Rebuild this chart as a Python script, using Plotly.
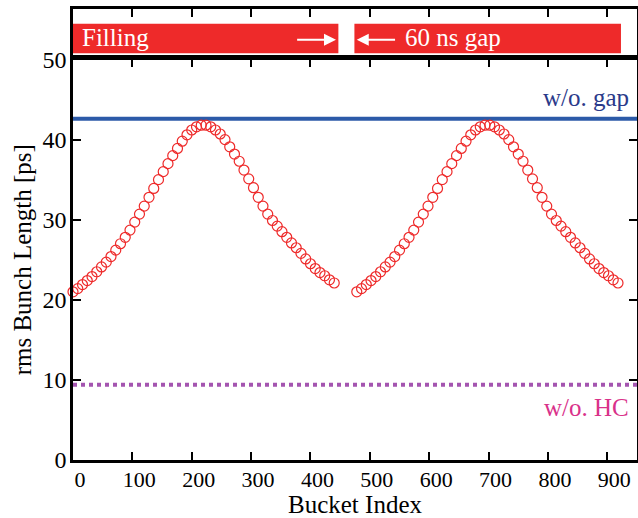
import plotly.graph_objects as go

# ---- data ----
bucket_a = list(range(0, 441, 8))
length_a = [21.0, 21.4, 21.9, 22.4, 22.9, 23.5, 24.1, 24.7, 25.4, 26.2,
            27.0, 27.8, 28.7, 29.7, 30.7, 31.7, 32.8, 33.9, 35.0, 36.0,
            37.0, 38.0, 38.9, 39.8, 40.6, 41.2, 41.6, 41.8, 41.8, 41.6,
            41.2, 40.7, 40.0, 39.1, 38.2, 37.3, 36.2, 35.1, 34.0, 32.8,
            31.7, 30.7, 29.9, 29.2, 28.5, 27.8, 27.1, 26.5, 25.8, 25.1,
            24.5, 23.9, 23.4, 23.0, 22.5, 22.1]
bucket_b = list(range(478, 919, 8))
length_b = [21.0, 21.4, 21.9, 22.4, 22.9, 23.5, 24.1, 24.7, 25.4, 26.2,
            27.0, 27.8, 28.7, 29.7, 30.7, 31.7, 32.8, 33.9, 35.0, 36.0,
            37.0, 38.0, 38.9, 39.8, 40.6, 41.2, 41.6, 41.8, 41.8, 41.6,
            41.2, 40.7, 40.0, 39.1, 38.2, 37.3, 36.2, 35.1, 34.0, 32.8,
            31.7, 30.7, 29.9, 29.2, 28.5, 27.8, 27.1, 26.5, 25.8, 25.1,
            24.5, 23.9, 23.4, 23.0, 22.5, 22.1]
no_gap_level = 42.6
no_hc_level = 9.4
fill_start = [0, 474]
fill_end = [447, 923]
x_range = [0, 950]
x_ticks = [0, 100, 200, 300, 400, 500, 600, 700, 800, 900]
y_ticks = [0, 10, 20, 30, 40, 50]

FONT = "Liberation Serif"
RED = "#ee2a2a"

fig = go.Figure()

fig.add_trace(go.Scatter(x=x_range, y=[no_gap_level] * 2, mode="lines",
                         line=dict(color="#2c5aa8", width=4), showlegend=False,
                         xaxis="x", yaxis="y"))
fig.add_trace(go.Scatter(x=x_range, y=[no_hc_level] * 2, mode="lines",
                         line=dict(color="#a455b0", width=4, dash="4px,4px"),
                         showlegend=False, xaxis="x", yaxis="y"))
for bx, by in [(bucket_a, length_a), (bucket_b, length_b)]:
    fig.add_trace(go.Scatter(x=bx, y=by, mode="markers",
                             marker=dict(symbol="circle-open", size=10, color=RED,
                                         line=dict(width=1.2, color=RED)),
                             cliponaxis=False, showlegend=False,
                             xaxis="x", yaxis="y"))

shapes = []
for s, e in zip(fill_start, fill_end):
    shapes.append(dict(type="rect", xref="x2", yref="y2", x0=s, x1=e, y0=0.04, y1=0.68,
                       fillcolor=RED, line=dict(width=0), layer="below"))

annotations = [
    dict(text="Filling", x=11, y=0.38, xref="x2", yref="y2", xanchor="left",
         yanchor="middle", showarrow=False, font=dict(family=FONT, size=25, color="white")),
    dict(text="60 ns gap", x=556, y=0.38, xref="x2", yref="y2", xanchor="left",
         yanchor="middle", showarrow=False, font=dict(family=FONT, size=25, color="white")),
    dict(text="", x=443, y=0.33, ax=375, ay=0.33, xref="x2", yref="y2",
         axref="x2", ayref="y2", showarrow=True, arrowhead=2, arrowsize=1.2,
         arrowwidth=2, arrowcolor="white"),
    dict(text="", x=478, y=0.33, ax=545, ay=0.33, xref="x2", yref="y2",
         axref="x2", ayref="y2", showarrow=True, arrowhead=2, arrowsize=1.2,
         arrowwidth=2, arrowcolor="white"),
    dict(text="w/o. gap", x=940, y=45.2, xref="x", yref="y", xanchor="right",
         yanchor="middle", showarrow=False, font=dict(family=FONT, size=25, color="#2b3a8a")),
    dict(text="w/o. HC", x=940, y=6.6, xref="x", yref="y", xanchor="right",
         yanchor="middle", showarrow=False, font=dict(family=FONT, size=25, color="#d9318a")),
]

axis_common = dict(showline=True, linecolor="black", linewidth=2.5, ticks="inside",
                   ticklen=8, tickwidth=2, tickcolor="black", showgrid=False,
                   zeroline=False, automargin=False)

fig.update_layout(
    width=638, height=518,
    margin=dict(l=73, r=1, t=9, b=58),
    paper_bgcolor="white", plot_bgcolor="white",
    font=dict(family=FONT, size=25, color="black"),
    shapes=shapes, annotations=annotations,
    xaxis=dict(**axis_common, range=x_range, tickvals=x_ticks, mirror="ticks",
               domain=[0, 1], anchor="y", ticklabelshift=7, ticklabelstandoff=-2,
               tickfont=dict(size=22),
               title=dict(text="Bucket Index", standoff=3, font=dict(size=25))),
    yaxis=dict(**axis_common, range=[0, 50], tickvals=y_ticks, mirror="ticks",
               domain=[0, 0.888], anchor="x", ticklabelstandoff=-1,
               tickfont=dict(size=24),
               title=dict(text="rms Bunch Length [ps]", standoff=4, font=dict(size=25))),
    xaxis2=dict(**axis_common, range=x_range, tickvals=x_ticks, side="top", mirror=True,
                showticklabels=False, domain=[0, 1], anchor="y2"),
    yaxis2=dict(showline=True, linecolor="black", linewidth=2.5, mirror=True, ticks="",
                showticklabels=False, range=[0, 1], domain=[0.898, 1], anchor="x2",
                showgrid=False, zeroline=False, automargin=False),
)

fig.write_html("out.html", config={"displayModeBar": False},
               post_script="document.body.style.margin='0';document.body.style.overflow='hidden';")
